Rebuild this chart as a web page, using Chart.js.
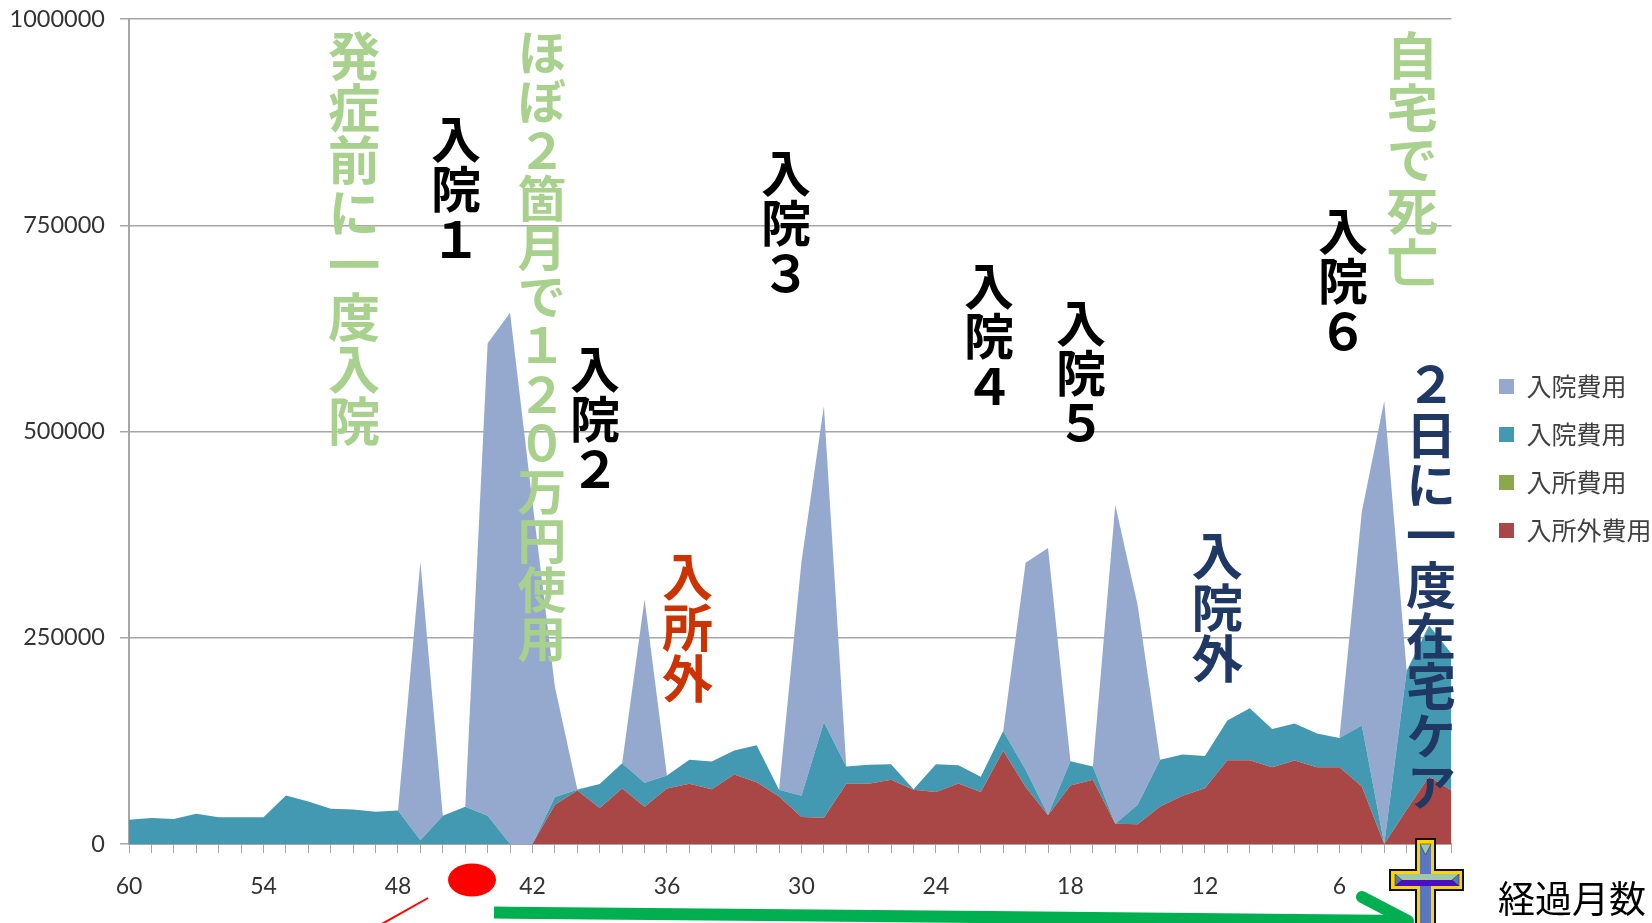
<!DOCTYPE html>
<html>
<head>
<meta charset="utf-8">
<script src="https://cdn.jsdelivr.net/npm/chart.js@4/dist/chart.umd.min.js"></script>
<style>
html, body { margin: 0; padding: 0; background: #fff; overflow: hidden; }
#wrap { position: relative; width: 1652px; height: 923px; overflow: hidden; }
#chart { position: absolute; left: 0; top: 0; }
#deco { position: absolute; left: 0; top: 0; }
.note {
    position: absolute;
    writing-mode: vertical-rl;
    text-orientation: upright;
    font-family: "Noto Sans CJK JP", sans-serif;
    font-weight: 700;
    line-height: 1;
    white-space: nowrap;
    transform: translateX(-50%);
}
#xname {
    position: absolute; left: 1498px; top: 875px;
    font: 37px/44px "Noto Sans CJK JP", sans-serif;
    color: #000;
    white-space: nowrap;
}
</style>
</head>
<body>
<div id="wrap">
    <canvas id="chart" width="1652" height="923"></canvas>
    <svg id="deco" width="1652" height="923">
        <ellipse cx="472" cy="880" rx="24" ry="16.5" fill="#ff0000"/>
        <line x1="428" y1="898" x2="380" y2="925" stroke="#ff0000" stroke-width="2"/>
        <line x1="494" y1="912.5" x2="1408" y2="921" stroke="#00b050" stroke-width="12"/>
        <line x1="1362" y1="897" x2="1408" y2="921" stroke="#00b050" stroke-width="12" stroke-linecap="round"/>
        <!-- cross -->
        <path d="M1416 839h19v31h28v20h-28v40h-19v-40h-26v-20h26z" fill="#ffd400" stroke="#111" stroke-width="2"/>
        <rect x="1420" y="845" width="11" height="80" fill="#5b76c0"/>
        <path d="M1420 844h11l-5.500 11z" fill="#9fc8a8" stroke="#222" stroke-width="0.500"/>
        <rect x="1395" y="874" width="64" height="6" fill="#9fc8a8"/>
        <rect x="1395" y="880" width="64" height="6" fill="#4a0fc0"/>
        <path d="M1395 874l7 6-7 6zM1459 874l-7 6 7 6z" fill="#5b76c0" stroke="#222" stroke-width="0.500"/>
    </svg>
    <div id="xname">経過月数</div>
</div>
<script>
var months = [
    "60","59","58","57","56","55","54","53","52","51",
    "50","49","48","47","46","45","44","43","42","41",
    "40","39","38","37","36","35","34","33","32","31",
    "30","29","28","27","26","25","24","23","22","21",
    "20","19","18","17","16","15","14","13","12","11",
    "10","9","8","7","6","5","4","3","2","1"
];

// 入所外費用
var outsideCost = [
    0, 0, 0, 0, 0, 0, 0, 0, 0, 0,
    0, 0, 0, 0, 0, 0, 0, 0, 0, 47600,
    64900, 43500, 67300, 45200, 67300, 73000, 66500, 84300, 75000, 57700,
    32700, 31900, 73000, 73000, 77800, 65700, 62900, 73400, 62900, 112900,
    69000, 34700, 71000, 77800, 24600, 23800, 45600, 58500, 67700, 101600,
    101600, 93100, 101200, 93100, 93100, 69800, 0, 41500, 81800, 64900
];

// 入所費用
var facilityCost = [
    0, 0, 0, 0, 0, 0, 0, 0, 0, 0,
    0, 0, 0, 0, 0, 0, 0, 0, 0, 0,
    0, 0, 0, 0, 0, 0, 0, 0, 0, 0,
    0, 0, 0, 0, 0, 0, 0, 0, 0, 0,
    0, 0, 0, 0, 0, 0, 0, 0, 0, 0,
    0, 0, 0, 0, 0, 0, 0, 0, 0, 0
];

// 入院費用 (teal)
var tealCost = [
    29400, 31400, 30200, 36700, 32300, 32300, 32300, 58900, 51600, 42700,
    41900, 39100, 40700, 4400, 34300, 45200, 34300, 0, 0, 9300,
    800, 29100, 30700, 29000, 15700, 29000, 33500, 29000, 44700, 8000,
    25800, 115700, 21000, 23000, 19000, 800, 33900, 22200, 18500, 24200,
    21000, 800, 29400, 16200, 0, 23800, 56400, 50000, 39100, 48000,
    62900, 46400, 44800, 40800, 35500, 73700, 0, 168500, 183200, 166100
];

// 入院費用 (blue)
var blueCost = [
    0, 0, 0, 0, 0, 0, 0, 0, 0, 0,
    0, 0, 0, 337600, 0, 0, 572700, 644000, 414000, 133800,
    800, 0, 0, 222600, 0, 0, 0, 0, 0, 0,
    283500, 383200, 0, 0, 0, 0, 0, 0, 0, 0,
    251000, 323200, 0, 0, 386300, 241900, 0, 0, 0, 0,
    0, 0, 0, 0, 0, 259500, 537000, 0, 0, 0
];

var notes = [
    ["発症前に一度入院", 354, 30, "#a9d18e", 52.2],
    ["入院１", 456, 114, "#000000", 50],
    ["ほぼ２箇月で１２０万円使用", 541, 28, "#a9d18e", 48.8],
    ["入院２", 595, 344, "#000000", 50],
    ["入所外", 687, 551, "#cc3300", 51],
    ["入院３", 786, 148, "#000000", 50],
    ["入院４", 989, 261, "#000000", 50],
    ["入院５", 1081, 298, "#000000", 50],
    ["入院６", 1343, 206, "#000000", 50],
    ["自宅で死亡", 1412, 30, "#a9d18e", 51.6],
    ["入院外", 1217, 530, "#1f3864", 51.5],
    ["２日に一度在宅ケア", 1431, 359, "#1f3864", 50.3]
];

notes.forEach(function(n) {
    var d = document.createElement("div");
    d.className = "note";
    d.textContent = n[0];
    d.style.left = n[1] + "px";
    d.style.top = n[2] + "px";
    d.style.color = n[3];
    d.style.fontSize = n[4] + "px";
    document.getElementById("wrap").appendChild(d);
});

// move the legend to where the reference has it
var legendPlace = {
    id: "legendPlace",
    afterLayout: function(chart) {
        var l = chart.legend;
        l.left = 1476;
        l.right = 1652;
        l.top = 351;
        l.bottom = 923;
    }
};

var ctx = document.getElementById("chart").getContext("2d");
var chart = new Chart(ctx, {
    type: "line",
    plugins: [legendPlace],
    data: {
        labels: months,
        datasets: [
            { label: "入所外費用", data: outsideCost, backgroundColor: "#a84745", borderWidth: 0, fill: "origin" },
            { label: "入所費用", data: facilityCost, backgroundColor: "#8ca84c", borderWidth: 0, fill: "-1" },
            { label: "入院費用", data: tealCost, backgroundColor: "#4399b1", borderWidth: 0, fill: "-1" },
            { label: "入院費用", data: blueCost, backgroundColor: "#95a9cf", borderWidth: 0, fill: "-1" }
        ]
    },
    options: {
        responsive: false,
        animation: false,
        layout: { padding: { top: 19, right: 15 } },
        elements: { point: { radius: 0 }, line: { tension: 0 } },
        plugins: {
            tooltip: { enabled: false },
            legend: {
                position: "right",
                align: "start",
                reverse: true,
                labels: {
                    boxWidth: 15,
                    boxHeight: 15,
                    padding: 23,
                    color: "#404040",
                    font: { family: "'Noto Sans CJK JP'", size: 25 }
                }
            }
        },
        scales: {
            x: {
                afterFit: function(s) { s.height = 79; s.paddingLeft = 0; s.paddingRight = 0; },
                border: { color: "#a6a6a6", width: 2 },
                grid: { drawOnChartArea: false, color: "#a6a6a6", tickLength: 9, tickWidth: 1 },
                ticks: {
                    autoSkip: false,
                    maxRotation: 0,
                    padding: 20,
                    color: "#333333",
                    font: { family: "Lato", size: 23 },
                    callback: function(v, i) {
                        return i % 6 === 0 ? months[i] : "";
                    }
                }
            },
            y: {
                stacked: true,
                min: 0,
                max: 1000000,
                afterFit: function(s) { s.width = 129; s.paddingTop = 0; s.paddingBottom = 0; },
                border: { color: "#a6a6a6", width: 2 },
                grid: { color: "#a6a6a6", lineWidth: 1.500, tickLength: 9 },
                ticks: {
                    stepSize: 250000,
                    padding: 15,
                    color: "#333333",
                    font: { family: "Lato", size: 23.500 },
                    callback: function(v) { return String(v); }
                }
            }
        }
    }
});
</script>
</body>
</html>
